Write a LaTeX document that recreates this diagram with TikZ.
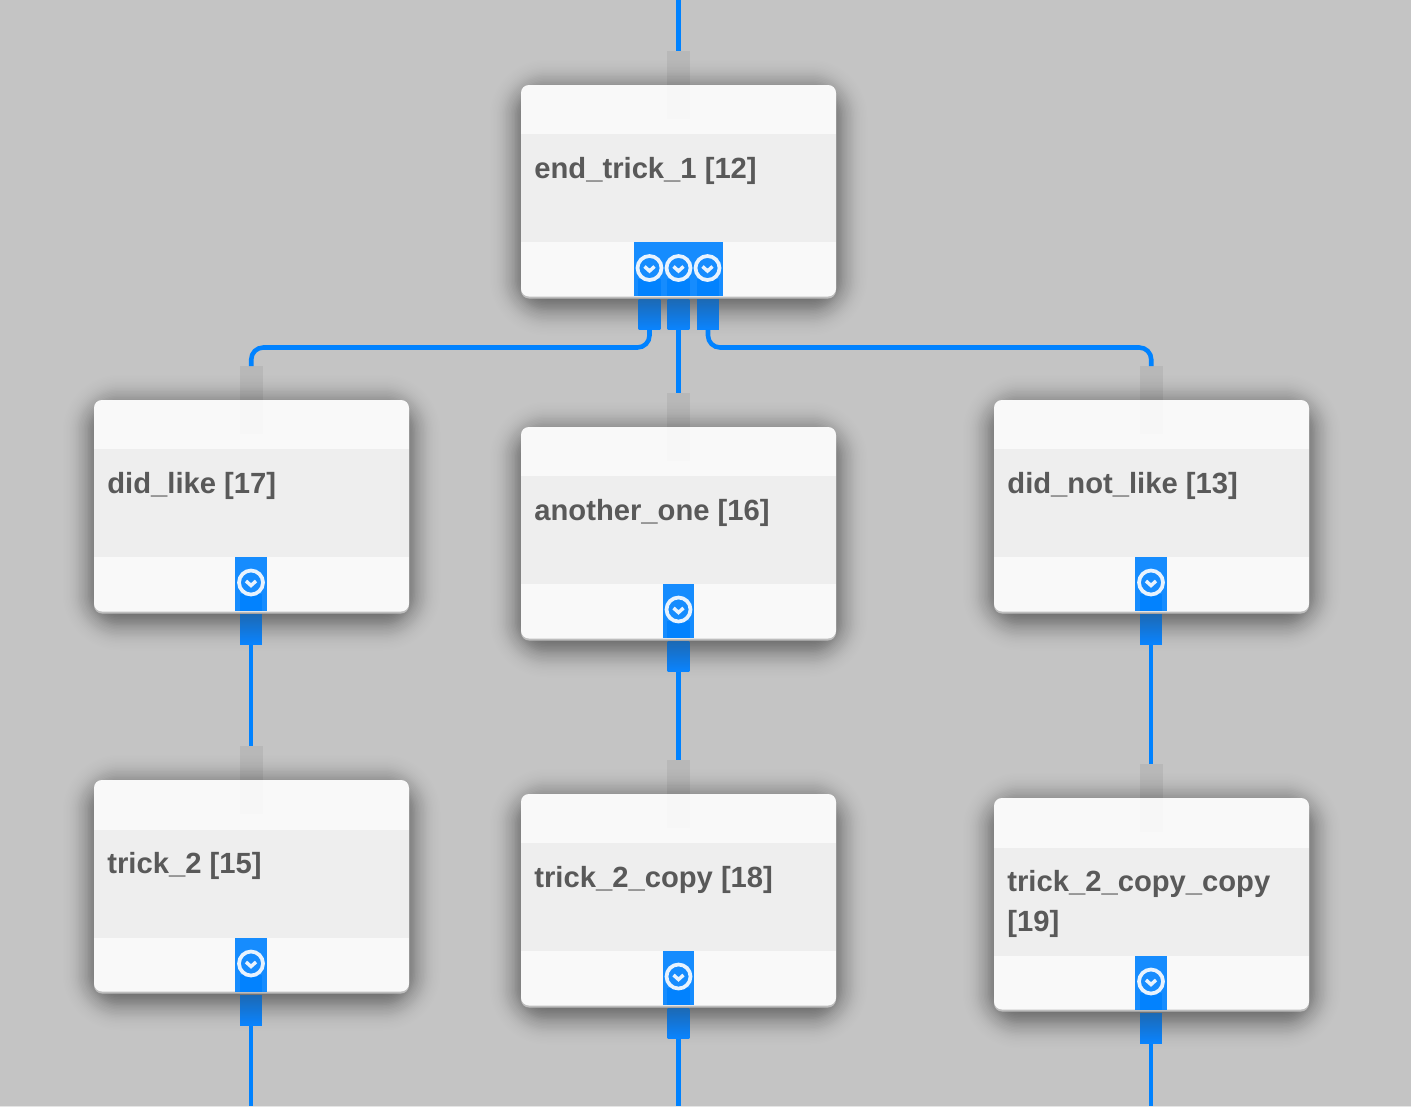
\documentclass[tikz,border=0pt]{standalone}
\usepackage{fontspec}
\setmainfont{Liberation Sans}
\definecolor{bgc}{HTML}{C4C4C4}
\definecolor{cardc}{HTML}{F9F9F9}
\definecolor{bandc}{HTML}{EEEEEE}
\definecolor{edgec}{HTML}{BDBDBD}
\definecolor{bluec}{HTML}{0082FF}
\definecolor{porttop}{HTML}{1C69B4}
\definecolor{portbot}{HTML}{0A84FF}
\definecolor{txtc}{HTML}{595959}
\tikzset{
  blk/.style={inner sep=0pt,outer sep=0pt,draw=none},
  wire/.style={draw=bluec,line width=3.4pt,rounded corners=9pt},
  inport/.style={blk,fill=black,fill opacity=.06},
  inportb/.style={blk,fill=black,fill opacity=.008},
  outport/.style={blk,top color=porttop,bottom color=portbot},
  outportb/.style={blk,fill=bluec,fill opacity=.9},
  button/.style={blk,fill=bluec,fill opacity=.91},
  icon/.style={circle,draw=white,draw opacity=.9,line width=2.8pt,minimum size=18pt,inner sep=0pt,outer sep=0pt},
  chev/.style={draw=white,draw opacity=.9,line width=2.6pt},
  label/.style={inner sep=0pt,outer sep=0pt,anchor=north west,align=left,text=txtc,
    font=\bfseries\fontsize{21.9pt}{30pt}\selectfont}
}
% rectangle node from two corners, in pixels
\newcommand\blkat[6]{%
  \pgfmathsetmacro\bw{((#4)-(#2))*0.75}\pgfmathsetmacro\bh{((#5)-(#3))*0.75}%
  \node[#6,minimum width=\bw pt,minimum height=\bh pt] (#1) at ({((#2)+(#4))/2},{((#3)+(#5))/2}) {};}
% card: id, left, top, band top, text
\newcommand\cardbox[5]{%
  \foreach \d in {-16,...,26}{%
    \pgfmathsetmacro\e{1.5*\d}%
    \pgfmathsetmacro\sa{0.7*1.5/(14*2.5066)*exp(-(\e*\e)/(2*14*14))}%
    \pgfmathsetmacro\sr{(\e+26)*0.75}%
    \fill[black,fill opacity=\sa,rounded corners=\sr pt]
      ({#2-\e},{#3+6-\e}) rectangle ({#2+315+\e},{#3+213+6+\e});}%
  \blkat{#1in}{#2+146}{#3-34}{#2+168.5}{#3+2}{inport}%
  \fill[edgec,rounded corners=6pt] (#2,#3) rectangle ({#2+315},{#3+213.5});%
  \blkat{#1}{#2}{#3}{#2+315}{#3+211.5}{blk,fill=cardc,rounded corners=6pt}%
  \blkat{#1band}{#2}{#4}{#2+315}{#4+108}{blk,fill=bandc}%
  \blkat{#1inb}{#2+146}{#3}{#2+168.5}{#3+34}{inportb}%
  \node[label] (#1text) at ({#2+13.4},{#3+72}) {#5};}
% output port: id, centre x, card bottom
\newcommand\portat[3]{%
  \blkat{#1}{#2-10.8}{#3+1}{#2+10.8}{#3+31.5}{outport}%
  \blkat{#1b}{#2-11.3}{#3-19}{#2+11.3}{#3-2}{outportb}}
\newcommand\iconat[3]{%
  \node[icon] (#1) at (#2,#3) {};
  \draw[chev] ({#2-5},{#3-1.5}) -- ({#2},{#3+3}) -- ({#2+5},{#3-1.5});}
\newcommand\outlet[3]{%
  \portat{#1port}{#2}{#3}%
  \blkat{#1btn}{#2-16}{#3-56}{#2+15.5}{#3-2}{button}%
  \iconat{#1icon}{#2}{#3-30.5}}
\begin{document}
\begin{tikzpicture}[x=0.75pt,y=-0.75pt]
\useasboundingbox (0,0) rectangle (1411,1107);
\fill[bgc] (0,0) rectangle (1411,1107);
\fill[black!10] (0,1106) rectangle (1411,1107);

\cardbox{a}{521}{85}{134}{end\_trick\_1 [12]}
\cardbox{b}{94}{400}{449}{did\_like [17]}
\cardbox{c}{521}{427}{476}{another\_one [16]}
\cardbox{d}{994}{400}{449}{did\_not\_like [13]}
\cardbox{e}{94}{780}{830}{trick\_2 [15]}
\cardbox{f}{521}{794}{843}{trick\_2\_copy [18]}
\cardbox{g}{994}{798}{848}{trick\_2\_copy\_copy\\{[19]}}

% triple outlet of the first card
\portat{ap1}{649.5}{298}
\portat{ap2}{678.5}{298}
\portat{ap3}{708}{298}
\blkat{abtn}{634}{242}{723}{296}{button}
\iconat{ai1}{649.5}{268}
\iconat{ai2}{678.5}{268}
\iconat{ai3}{707.5}{268}

\outlet{b}{251}{613}
\outlet{c}{678.5}{640}
\outlet{d}{1151}{613}
\outlet{e}{251}{994}
\outlet{f}{678.5}{1007}
\outlet{g}{1151}{1012}

% connectors
\coordinate (top) at (678.5,0);
\coordinate (bus) at (0,347.5);
\coordinate (floor) at (0,1106);
\draw[wire] (top) -- (top |- ain.north);
\draw[wire] (ap1.south) -- (ap1.south |- bus) -- (bin.north |- bus) -- (bin.north);
\draw[wire] (ap2.south) -- (ap2.south |- cin.north);
\draw[wire] (ap3.south) -- (ap3.south |- bus) -- (din.north |- bus) -- (din.north);
\draw[wire] (bport.south) -- (bport.south |- ein.north);
\draw[wire] (cport.south) -- (cport.south |- fin.north);
\draw[wire] (dport.south) -- (dport.south |- gin.north);
\draw[wire] (eport.south) -- (eport.south |- floor);
\draw[wire] (fport.south) -- (fport.south |- floor);
\draw[wire] (gport.south) -- (gport.south |- floor);
\end{tikzpicture}
\end{document}
